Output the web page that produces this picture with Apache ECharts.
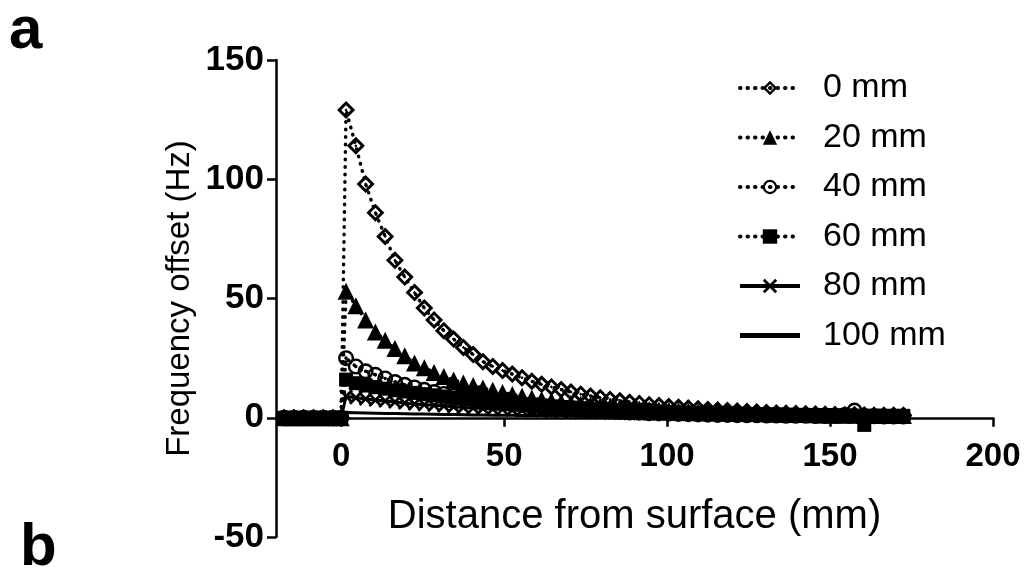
<!DOCTYPE html>
<html>
<head>
<meta charset="utf-8">
<title>Frequency offset vs distance</title>
<script src="https://cdn.jsdelivr.net/npm/echarts@6/dist/echarts.min.js"></script>
<style>
html, body { margin: 0; padding: 0; background: #fff; }
#chart { width: 1026px; height: 577px; }
</style>
</head>
<body>
<div id="chart"></div>
<script>
// distance from surface (mm)
var dist = [-17.5, -14.5, -11.5, -8.5, -5.5, -2.5, 0,
	1.5, 4.5, 7.5, 10.5, 13.5, 16.5, 19.5, 22.5, 25.5, 28.5,
	31.5, 34.5, 37.5, 40.5, 43.5, 46.5, 49.5, 52.5, 55.5, 58.5,
	61.5, 64.5, 67.5, 70.5, 73.5, 76.5, 79.5, 82.5, 85.5, 88.5,
	91.5, 94.5, 97.5, 100.5, 103.5, 106.5, 109.5, 112.5, 115.5, 118.5,
	121.5, 124.5, 127.5, 130.5, 133.5, 136.5, 139.5, 142.5, 145.5, 148.5,
	151.5, 154.5, 157.5, 160.5, 163.5, 166.5, 169.5, 172.5];

// frequency offset (Hz) per source depth
var off0 = [0, 0, 0, 0, 0, 0, 0,
	129, 114, 98, 86, 76, 66, 59, 52.5, 46, 41,
	36.5, 33, 29.5, 26.5, 23.5, 21.5, 19.8, 18.3, 16.8, 15.3,
	14, 12.9, 11.8, 10.8, 9.9, 9.1, 8.4, 7.7, 7.1, 6.5,
	6.0, 5.5, 5.1, 4.7, 4.4, 4.1, 3.8, 3.5, 3.2, 3.0,
	2.8, 2.6, 2.4, 2.2, 2.0, 1.9, 1.8, 1.7, 1.6, 1.5,
	1.4, 1.3, 1.3, 1.2, 1.1, 1.1, 1.0, 1.0];
var off20 = [0, 0, 0, 0, 0, 0, 0,
	53, 47, 41, 36, 32.5, 29, 26, 23, 21, 19,
	17.3, 15.8, 14.6, 13.5, 12.5, 11.5, 10.6, 9.8, 9.0, 8.3,
	7.7, 7.1, 6.6, 6.1, 5.7, 5.3, 4.9, 4.6, 4.3, 4.0,
	3.7, 3.5, 3.3, 3.1, 2.9, 2.7, 2.5, 2.4, 2.2, 2.1,
	2.0, 1.9, 1.8, 1.7, 1.6, 1.5, 1.4, 1.4, 1.3, 1.2,
	1.2, 1.1, 1.1, 1.0, 1.0, 0.9, 0.9, 0.9];
var off40 = [0, 0, 0, 0, 0, 0, 0,
	25, 21.5, 19.5, 18, 16.5, 15, 13.8, 12.7, 11.7, 10.8,
	10, 9.2, 8.5, 7.8, 7.2, 6.6, 6.1, 5.6, 5.2, 4.8,
	4.4, 4.1, 3.8, 3.5, 3.2, 3.0, 2.8, 2.6, 2.4, 2.2,
	2.1, 1.9, 1.8, 1.7, 1.6, 1.5, 1.4, 1.3, 1.2, 1.2,
	1.1, 1.0, 1.0, 0.9, 0.9, 0.8, 0.8, 0.8, 0.7, 0.7,
	0.7, 1.2, 3.0, 0.6, 0.6, 0.5, 0.5, 0.5];
var off60 = [0, 0, 0, 0, 0, 0, 0,
	16, 14.5, 13.5, 12.8, 12.2, 11.5, 11, 10.4, 9.9, 9.4,
	8.9, 8.4, 8.0, 7.6, 7.2, 6.8, 6.4, 6.0, 5.7, 5.4,
	5.1, 4.8, 4.5, 4.3, 4.0, 3.8, 3.6, 3.4, 3.2, 3.0,
	2.9, 2.7, 2.6, 2.4, 2.3, 2.2, 2.1, 2.0, 1.9, 1.8,
	1.7, 1.6, 1.5, 1.4, 1.4, 1.3, 1.2, 1.2, 1.1, 1.1,
	1.0, 1.0, 0.9, -3.0, 0.9, 0.8, 0.8, 0.8];
var off80 = [0, 0, 0, 0, 0, 0, 0,
	9, 8.4, 7.9, 7.4, 7.0, 6.6, 6.2, 5.8, 5.5, 5.2,
	4.9, 4.6, 4.3, 4.1, 3.9, 3.7, 3.5, 3.3, 3.1, 2.9,
	2.8, 2.6, 2.5, 2.4, 2.3, 2.2, 2.1, 2.0, 1.9, 1.8,
	1.7, 1.6, 1.55, 1.5, 1.4, 1.35, 1.3, 1.25, 1.2, 1.15,
	1.1, 1.05, 1.0, 1.0, 0.95, 0.9, 0.9, 0.85, 0.8, 0.8,
	0.75, 0.75, 0.7, 0.7, 0.7, 0.65, 0.65, 0.6];
var off100 = [0, 0, 0, 0, 0, 0, 0,
	2.2, 2.1, 2.0, 1.9, 1.8, 1.75, 1.7, 1.6, 1.55, 1.5,
	1.4, 1.35, 1.3, 1.2, 1.15, 1.1, 1.05, 1.0, 0.95, 0.9,
	0.9, 0.85, 0.8, 0.8, 0.75, 0.75, 0.7, 0.7, 0.65, 0.65,
	0.6, 0.6, 0.55, 0.55, 0.5, 0.5, 0.5, 0.45, 0.45, 0.45,
	0.4, 0.4, 0.4, 0.4, 0.35, 0.35, 0.35, 0.35, 0.3, 0.3,
	0.3, 0.3, 0.3, 0.25, 0.25, 0.25, 0.25, 0.25];

var names = ['0 mm', '20 mm', '40 mm', '60 mm', '80 mm', '100 mm'];
var xTicks = [0, 50, 100, 150, 200];

var font = '"Liberation Sans", Arial, sans-serif';

// marker shapes
var diamondDot = 'path://M5,0L10,5L5,10L0,5Z M5,2.3L2.3,5L5,7.7L7.7,5Z M5,4.1L5.9,5L5,5.9L4.1,5Z';
var circleDot = 'path://M5,0A5,5,0,1,1,5,10A5,5,0,1,1,5,0Z M5,1.5A3.5,3.5,0,1,0,5,8.5A3.5,3.5,0,1,0,5,1.5Z M5,3.9A1.1,1.1,0,1,1,5,6.1A1.1,1.1,0,1,1,5,3.9Z';
var xMark = 'path://M0,1.4L1.4,0L5,3.6L8.6,0L10,1.4L6.4,5L10,8.6L8.6,10L5,6.4L1.4,10L0,8.6L3.6,5Z';
var barIcon = 'path://M0,0L1,0Z M0,6.6L60,6.6L60,11.4L0,11.4Z M0,18L1,18Z';

function pairs(vals) {
	return dist.map(function (d, i) {
		return [d, vals[i]];
	});
}

var dotted = { color: '#000', width: 3.5, type: [0.5, 7], cap: 'round' };
var solid = { color: '#000', width: 3 };

function makeSeries(name, vals, symbol, size, lineStyle) {
	return {
		name: name,
		type: 'line',
		xAxisIndex: 0,
		yAxisIndex: 0,
		data: pairs(vals),
		symbol: symbol,
		symbolSize: size,
		showSymbol: symbol !== 'none',
		lineStyle: lineStyle,
		itemStyle: { color: '#000' },
		emphasis: { disabled: true },
		clip: false
	};
}

var myChart = echarts.init(document.getElementById('chart'));

var option = {
	animation: false,
	backgroundColor: '#fff',
	textStyle: { fontFamily: font },
	grid: [
		// plot area, y from -50 to 150
		{ left: 276, right: 33, top: 60, bottom: 40, containLabel: false, outerBoundsMode: 'none' },
		// same width, bottom edge on the zero line: carries the x labels and name
		{ left: 276, right: 33, top: 60, bottom: 160, containLabel: false, outerBoundsMode: 'none' }
	],
	legend: {
		orient: 'vertical',
		left: 733,
		top: 66,
		itemWidth: 60,
		itemHeight: 18,
		itemGap: 15.5,
		selectedMode: false,
		lineStyle: { width: 4 },
		textStyle: {
			fontFamily: font,
			fontSize: 34,
			lineHeight: 34,
			color: '#000',
			padding: [0, 0, 0, 18]
		},
		data: [
			{ name: names[0] },
			{ name: names[1] },
			{ name: names[2] },
			{ name: names[3] },
			{ name: names[4] },
			{ name: names[5], icon: barIcon }
		]
	},
	xAxis: [
		{
			type: 'value',
			gridIndex: 0,
			min: -20,
			max: 200,
			axisLine: { show: true, onZero: true, lineStyle: { color: '#000', width: 2.5 } },
			axisTick: { show: true, customValues: xTicks, length: 9, lineStyle: { color: '#000', width: 2.5 } },
			axisLabel: { show: false },
			splitLine: { show: false }
		},
		{
			type: 'value',
			gridIndex: 1,
			min: -20,
			max: 200,
			name: 'Distance from surface (mm)',
			nameLocation: 'middle',
			nameGap: 80,
			nameMoveOverlap: false,
			nameTextStyle: { fontFamily: font, fontSize: 40, color: '#000' },
			axisLine: { show: false },
			axisTick: { show: false },
			axisLabel: {
				customValues: xTicks,
				margin: 23,
				fontFamily: font,
				fontSize: 33,
				fontWeight: 'bold',
				color: '#000'
			},
			splitLine: { show: false }
		}
	],
	yAxis: [
		{
			type: 'value',
			gridIndex: 0,
			min: -50,
			max: 150,
			interval: 50,
			name: 'Frequency offset (Hz)',
			nameLocation: 'middle',
			nameGap: 80,
			nameMoveOverlap: false,
			nameTextStyle: { fontFamily: font, fontSize: 33, color: '#000' },
			axisLine: { show: true, onZero: false, lineStyle: { color: '#000', width: 2.5 } },
			axisTick: { show: true, length: 9, lineStyle: { color: '#000', width: 2.5 } },
			axisLabel: {
				margin: 12,
				fontFamily: font,
				fontSize: 35,
				fontWeight: 'bold',
				color: '#000'
			},
			splitLine: { show: false }
		},
		{
			type: 'value',
			gridIndex: 1,
			min: 0,
			max: 150,
			show: false
		}
	],
	graphic: [
		{
			type: 'text',
			left: 9,
			top: 1,
			style: { text: 'a', fontFamily: font, fontSize: 60, fontWeight: 'bold', fill: '#000' }
		},
		{
			type: 'text',
			left: 20,
			top: 518,
			style: { text: 'b', fontFamily: font, fontSize: 60, fontWeight: 'bold', fill: '#000' }
		}
	],
	series: [
		makeSeries(names[0], off0, diamondDot, 18, dotted),
		makeSeries(names[1], off20, 'triangle', 17, dotted),
		makeSeries(names[2], off40, circleDot, 16, dotted),
		makeSeries(names[3], off60, 'rect', 14, dotted),
		makeSeries(names[4], off80, xMark, 14, solid),
		makeSeries(names[5], off100, 'none', 0, solid)
	]
};

myChart.setOption(option);
</script>
</body>
</html>
